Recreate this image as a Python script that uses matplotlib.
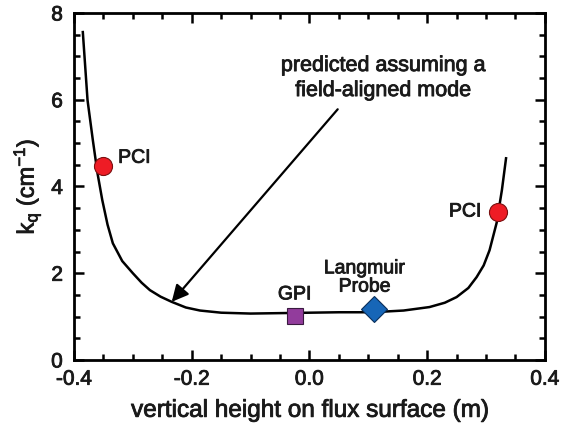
import numpy as np
import matplotlib
matplotlib.use("Agg")
import matplotlib.pyplot as plt
import matplotlib.patheffects as pe
from matplotlib.ticker import MultipleLocator, FormatStrFormatter

plt.rcParams['font.family'] = ['Liberation Sans', 'DejaVu Sans']
plt.rcParams['mathtext.fontset'] = 'custom'
plt.rcParams['mathtext.rm'] = 'Liberation Sans'
plt.rcParams['mathtext.it'] = 'Liberation Sans'
plt.rcParams['axes.unicode_minus'] = False

# predicted k_theta curve (field-aligned mode)
curve_x = [-0.385, -0.377, -0.368, -0.360, -0.352, -0.343, -0.334, -0.318, -0.300,
           -0.285, -0.271, -0.253, -0.234, -0.21, -0.186, -0.15, -0.10, -0.05, 0.0,
           0.05, 0.10, 0.12, 0.16, 0.204, 0.23, 0.25, 0.27, 0.284, 0.296, 0.306,
           0.318, 0.327, 0.334]
curve_y = [7.56, 5.99, 5.07, 4.30, 3.69, 3.12, 2.69, 2.28, 2.00,
           1.78, 1.61, 1.46, 1.34, 1.21, 1.14, 1.09, 1.07, 1.08, 1.09,
           1.10, 1.10, 1.11, 1.14, 1.22, 1.32, 1.45, 1.66, 1.91, 2.18, 2.53,
           3.16, 3.92, 4.65]

# measurements
pci_x = [-0.351, 0.320]
pci_y = [4.47, 3.41]
gpi_x, gpi_y = [-0.025], [1.01]
lp_x, lp_y = [0.110], [1.17]

ink = '#1a1a1a'
heavy = [pe.withStroke(linewidth=0.6, foreground=ink)]

fig = plt.figure(figsize=(5.67, 4.26), dpi=100)
ax = fig.add_axes([0.1305, 0.155, 0.8305, 0.8145])

ax.plot(curve_x, curve_y, color='black', lw=1.8, zorder=2)
ax.plot(pci_x, pci_y, 'o', ms=13, mfc='#ee1c25', mec='#7a1010', mew=0.8, zorder=3)
ax.plot(gpi_x, gpi_y, 's', ms=12, mfc='#923c9c', mec='#3a1a40', mew=0.8, zorder=3)
ax.plot(lp_x, lp_y, 'D', ms=13, mfc='#1766b7', mec='#0a2f5a', mew=0.8, zorder=3)

txt = dict(fontsize=14, color=ink, path_effects=heavy)
ax.text(-0.325, 4.65, 'PCI', ha='left', va='center', **txt)
ax.text(0.292, 3.41, 'PCI', ha='right', va='center', **txt)
ax.text(-0.025, 1.50, 'GPI', ha='center', va='center', **txt)
ax.text(0.094, 1.89, 'Langmuir\nProbe', ha='center', va='center', linespacing=1.1, **txt)
ax.text(0.125, 6.5, 'predicted assuming a\nfield-aligned mode', ha='center', va='center',
        linespacing=1.25, fontsize=15.5, color=ink, path_effects=heavy)
ax.annotate('', xy=(-0.234, 1.34), xytext=(0.048, 5.78),
            arrowprops=dict(arrowstyle='-|>', color='black', lw=1.6, mutation_scale=25,
                            shrinkA=0, shrinkB=0))

ax.set_xlim(-0.4, 0.4)
ax.set_ylim(0, 8)
ax.xaxis.set_major_locator(MultipleLocator(0.2))
ax.xaxis.set_minor_locator(MultipleLocator(0.05))
ax.yaxis.set_major_locator(MultipleLocator(2))
ax.yaxis.set_minor_locator(MultipleLocator(0.5))
ax.xaxis.set_major_formatter(FormatStrFormatter('%.1f'))
ax.tick_params(which='both', direction='in', top=True, right=True, width=1.8)
ax.tick_params(which='major', length=7, labelsize=15, labelcolor=ink)
ax.tick_params(which='minor', length=4)
ax.tick_params(axis='x', which='major', pad=7)
ax.tick_params(axis='y', which='major', pad=8)
for lab in ax.get_xticklabels() + ax.get_yticklabels():
    lab.set_path_effects(heavy)
for s in ax.spines.values():
    s.set_linewidth(2)

ax.set_xlabel('vertical height on flux surface (m)', fontsize=17.5, color=ink, labelpad=8,
              path_effects=heavy)
ax.set_ylabel('k$_\\mathrm{q}$ (cm$^\\mathrm{-1}$)', fontsize=17, color=ink, labelpad=6,
              path_effects=heavy)

fig.savefig('out.png', dpi=100)
